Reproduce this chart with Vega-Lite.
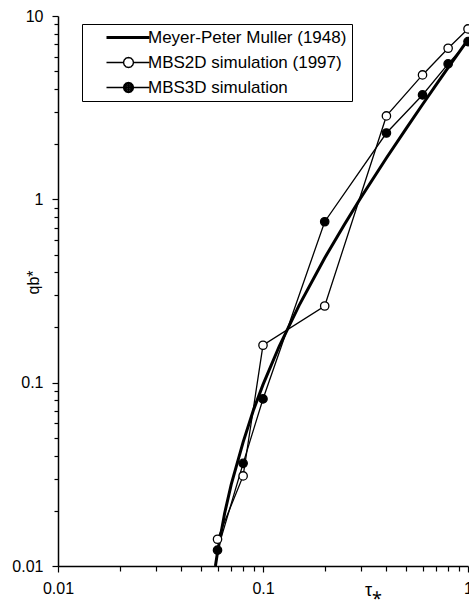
{
  "$schema": "https://vega.github.io/schema/vega-lite/v6.json",
  "width": 410,
  "height": 550,
  "autosize": {"type": "none"},
  "padding": {"left": 58, "top": 16, "right": 1, "bottom": 34},
  "background": "white",
  "config": {
    "view": {"stroke": null},
    "font": "Liberation Sans",
    "axis": {
      "domainColor": "black",
      "domainWidth": 1.5,
      "tickColor": "black",
      "tickWidth": 1.2,
      "labelColor": "black",
      "labelFontSize": 16,
      "labelFont": "Liberation Sans",
      "grid": false,
      "titleColor": "black",
      "titleFontWeight": "normal",
      "titleFont": "Liberation Sans",
      "labelOverlap": false,
      "labelFlush": false,
      "labelBound": false
    }
  },
  "data": {
    "values": [
      {"series": "Meyer-Peter Muller (1948)", "tau": 0.0586, "q": 0.01},
      {"series": "Meyer-Peter Muller (1948)", "tau": 0.06, "q": 0.0119},
      {"series": "Meyer-Peter Muller (1948)", "tau": 0.065, "q": 0.0194},
      {"series": "Meyer-Peter Muller (1948)", "tau": 0.07, "q": 0.0279},
      {"series": "Meyer-Peter Muller (1948)", "tau": 0.08, "q": 0.0474},
      {"series": "Meyer-Peter Muller (1948)", "tau": 0.09, "q": 0.0713},
      {"series": "Meyer-Peter Muller (1948)", "tau": 0.1, "q": 0.0976},
      {"series": "Meyer-Peter Muller (1948)", "tau": 0.12, "q": 0.158},
      {"series": "Meyer-Peter Muller (1948)", "tau": 0.15, "q": 0.264},
      {"series": "Meyer-Peter Muller (1948)", "tau": 0.2, "q": 0.479},
      {"series": "Meyer-Peter Muller (1948)", "tau": 0.25, "q": 0.732},
      {"series": "Meyer-Peter Muller (1948)", "tau": 0.3, "q": 1.02},
      {"series": "Meyer-Peter Muller (1948)", "tau": 0.4, "q": 1.68},
      {"series": "Meyer-Peter Muller (1948)", "tau": 0.5, "q": 2.44},
      {"series": "Meyer-Peter Muller (1948)", "tau": 0.6, "q": 3.29},
      {"series": "Meyer-Peter Muller (1948)", "tau": 0.7, "q": 4.22},
      {"series": "Meyer-Peter Muller (1948)", "tau": 0.8, "q": 5.23},
      {"series": "Meyer-Peter Muller (1948)", "tau": 0.9, "q": 6.3},
      {"series": "Meyer-Peter Muller (1948)", "tau": 1.0, "q": 7.44},
      {"series": "MBS2D simulation (1997)", "tau": 0.06, "q": 0.014},
      {"series": "MBS2D simulation (1997)", "tau": 0.08, "q": 0.031},
      {"series": "MBS2D simulation (1997)", "tau": 0.1, "q": 0.16},
      {"series": "MBS2D simulation (1997)", "tau": 0.2, "q": 0.262},
      {"series": "MBS2D simulation (1997)", "tau": 0.4, "q": 2.85},
      {"series": "MBS2D simulation (1997)", "tau": 0.6, "q": 4.77},
      {"series": "MBS2D simulation (1997)", "tau": 0.8, "q": 6.67},
      {"series": "MBS2D simulation (1997)", "tau": 1.0, "q": 8.5},
      {"series": "MBS3D simulation", "tau": 0.06, "q": 0.0122},
      {"series": "MBS3D simulation", "tau": 0.08, "q": 0.0363},
      {"series": "MBS3D simulation", "tau": 0.1, "q": 0.0815},
      {"series": "MBS3D simulation", "tau": 0.2, "q": 0.755},
      {"series": "MBS3D simulation", "tau": 0.4, "q": 2.3},
      {"series": "MBS3D simulation", "tau": 0.6, "q": 3.71},
      {"series": "MBS3D simulation", "tau": 0.8, "q": 5.48},
      {"series": "MBS3D simulation", "tau": 1.0, "q": 7.25}
    ]
  },
  "encoding": {
    "x": {
      "field": "tau",
      "type": "quantitative",
      "scale": {"type": "log", "domain": [0.01, 1], "nice": false},
      "axis": {
        "values": [0.01, 0.02, 0.03, 0.04, 0.05, 0.06, 0.07, 0.08, 0.09, 0.1, 0.2, 0.3, 0.4, 0.5, 0.6, 0.7, 0.8, 0.9, 1],
        "format": "~g",
        "labelExpr": "(datum.value == 0.01 || datum.value == 0.1 || datum.value == 1) ? datum.label : ''",
        "tickSize": {"condition": {"test": "datum.value == 0.01 || datum.value == 0.1 || datum.value == 1", "value": 6}, "value": 5},
        "labelPadding": 8,
        "title": "τ⁎",
        "titleX": 315,
        "titleY": 24,
        "titleBaseline": "middle",
        "titleAlign": "center",
        "titleFontSize": 18
      }
    },
    "y": {
      "field": "q",
      "type": "quantitative",
      "scale": {"type": "log", "domain": [0.01, 10], "nice": false},
      "axis": {
        "values": [0.01, 0.02, 0.03, 0.04, 0.05, 0.06, 0.07, 0.08, 0.09, 0.1, 0.2, 0.3, 0.4, 0.5, 0.6, 0.7, 0.8, 0.9, 1, 2, 3, 4, 5, 6, 7, 8, 9, 10],
        "format": "~g",
        "labelExpr": "(datum.value == 0.01 || datum.value == 0.1 || datum.value == 1 || datum.value == 10) ? datum.label : ''",
        "tickSize": {"condition": {"test": "datum.value == 0.01 || datum.value == 0.1 || datum.value == 1 || datum.value == 10", "value": 6}, "value": 4},
        "labelPadding": 9,
        "title": "qb*",
        "titleX": -25,
        "titleY": 266,
        "titleAngle": -90,
        "titleBaseline": "middle",
        "titleAlign": "center",
        "titleFontSize": 16
      }
    }
  },
  "layer": [
    {
      "transform": [{"filter": "datum.series === 'Meyer-Peter Muller (1948)'"}],
      "mark": {"type": "line", "color": "black", "strokeWidth": 3}
    },
    {
      "transform": [{"filter": "datum.series !== 'Meyer-Peter Muller (1948)'"}],
      "mark": {"type": "line", "color": "black", "strokeWidth": 1.3},
      "encoding": {"detail": {"field": "series", "type": "nominal"}}
    },
    {
      "transform": [{"filter": "datum.series !== 'Meyer-Peter Muller (1948)'"}],
      "mark": {"type": "point", "shape": "circle", "size": 70, "stroke": "black", "strokeWidth": 1.3, "opacity": 1},
      "encoding": {
        "fill": {
          "field": "series",
          "type": "nominal",
          "scale": {
            "domain": ["MBS2D simulation (1997)", "MBS3D simulation"],
            "range": ["white", "black"]
          },
          "legend": null
        }
      }
    },
    {
      "transform": [{"filter": "datum.series !== 'Meyer-Peter Muller (1948)'"}],
      "mark": {"type": "point", "size": 100, "stroke": "black", "strokeWidth": 1.4, "opacity": 0},
      "encoding": {
        "shape": {
          "field": "series",
          "type": "nominal",
          "scale": {
            "domain": ["Meyer-Peter Muller (1948)", "MBS2D simulation (1997)", "MBS3D simulation"],
            "range": [
              "M2.2,-0.15L10.8,-0.15M2.2,0.15L10.8,0.15",
              "M2.2,0L5.6,0M7.6,0L10.8,0M7.6,0L7.466,0.5L7.1,0.866L6.6,1L6.1,0.866L5.734,0.5L5.6,0L5.734,-0.5L6.1,-0.866L6.6,-1L7.1,-0.866L7.466,-0.5Z",
              "M2.2,0L5.6,0M7.6,0L10.8,0M7.6,0L7.466,0.5L7.1,0.866L6.6,1L6.1,0.866L5.734,0.5L5.6,0L5.734,-0.5L6.1,-0.866L6.6,-1L7.1,-0.866L7.466,-0.5ZM7.32,0L7.224,0.36L6.96,0.624L6.6,0.72L6.24,0.624L5.976,0.36L5.88,0L5.976,-0.36L6.24,-0.624L6.6,-0.72L6.96,-0.624L7.224,-0.36ZM7.04,0L6.911,0.311L6.6,0.44L6.289,0.311L6.16,0L6.289,-0.311L6.6,-0.44L6.911,-0.311ZM6.76,0L6.6,0.16L6.44,0L6.6,-0.16Z"
            ]
          },
          "legend": {
            "title": null,
            "orient": "none",
            "legendX": 24,
            "legendY": 8,
            "strokeColor": "black",
            "padding": 5,
            "labelFontSize": 17,
            "labelFont": "Liberation Sans",
            "labelColor": "black",
            "labelLimit": 0,
            "labelOffset": 44,
            "symbolSize": 100,
            "rowPadding": 7,
            "symbolOpacity": 1,
            "symbolFillColor": "transparent",
            "symbolStrokeColor": "black",
            "symbolStrokeWidth": 1.4,
            "labelExpr": "datum.label + '\u00a0\u00a0\u00a0\u00a0'"
          }
        }
      }
    }
  ]
}
